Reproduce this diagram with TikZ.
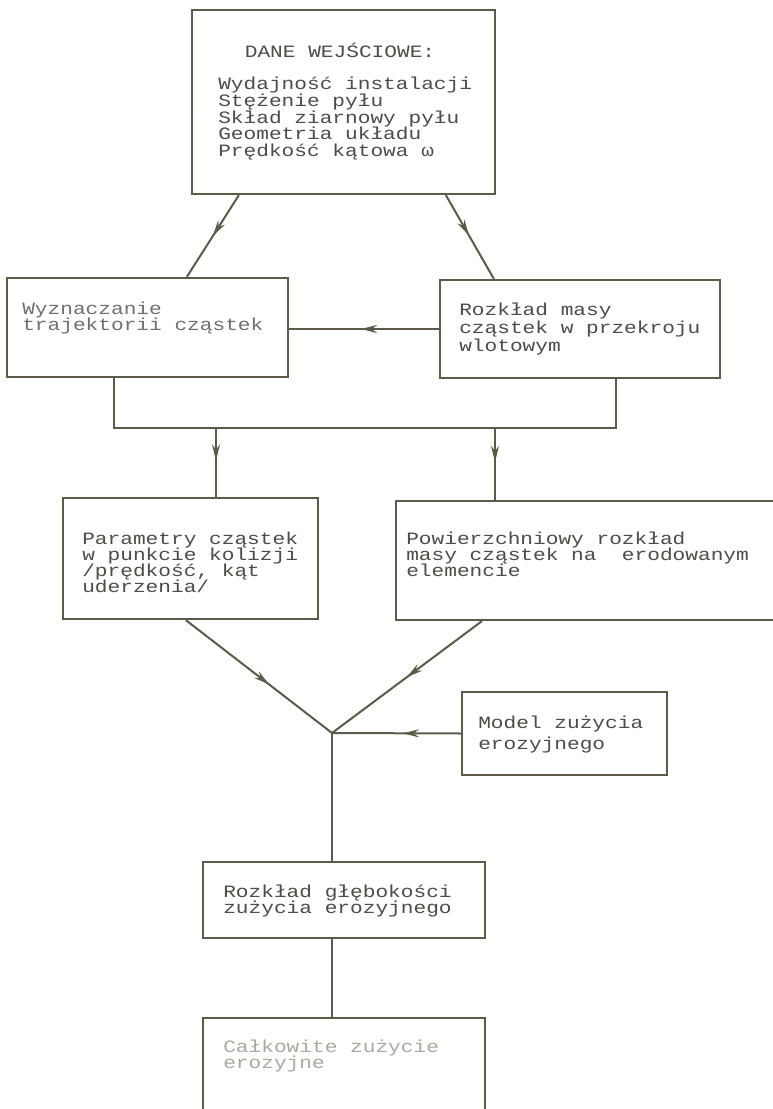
\documentclass[tikz,border=0pt]{standalone}
\usepackage{fontspec}
\newfontfamily\tw[FakeStretch=1.22]{Liberation Mono}
\usetikzlibrary{arrows.meta,decorations.markings,calc,fit}
\definecolor{ink}{HTML}{5E5A48}
\definecolor{txtc}{HTML}{4F4B45}
\definecolor{faint}{HTML}{ADA89C}
\newcommand{\mlines}[2]{\vtop{\baselineskip=#1\lineskiplimit=-100pt\lineskip=0pt\halign{##\hfil\cr#2\crcr}}}
\tikzset{
  box/.style={draw=ink, line width=1.7pt, inner sep=0pt},
  txtnode/.style={anchor=base west, inner sep=0pt, text=txtc, font=\tw\fontsize{13pt}{12pt}\selectfont},
  conn/.style={draw=ink, line width=1.5pt},
  midarr/.style={conn, postaction={decorate}, decoration={markings, mark=at position #1 with {\arrow[ink]{Stealth[length=12pt,width=6pt]}}}},
  midarr/.default=0.5
}
\begin{document}
\begin{tikzpicture}[x=0.75pt, y=-0.75pt]
\fill[white] (0,0) rectangle (772,1109);
\useasboundingbox (0,0) rectangle (772,1109);

% boxes
\node[box, fit={(192,10) (495,194)}] (top) {};
\node[box, fit={(7,278) (288,377)}] (wyz) {};
\node[box, fit={(440,280) (720,378)}] (rozk) {};
\node[box, fit={(63,498) (318,619)}] (param) {};
\node[box, fit={(396,501) (790,620)}] (powierz) {};
\node[box, fit={(462,692) (667,775)}] (model) {};
\node[box, fit={(203,862) (485,938)}] (glebok) {};
\node[box, fit={(203,1018) (485,1130)}] (calk) {};

% texts
\node[txtnode, anchor=base] (toph) at (340,58) {DANE WEJŚCIOWE:};
\node[txtnode] (toptxt) at (218,90) {\mlines{12.5pt}{Wydajność instalacji\cr Stężenie pyłu\cr Skład ziarnowy pyłu\cr Geometria układu\cr Prędkość kątowa ω}};
\node[txtnode, text=txtc!80] (wyztxt) at (22,314) {\mlines{12.3pt}{Wyznaczanie\cr trajektorii cząstek}};
\node[txtnode] (rozktxt) at (459,315) {\mlines{13.8pt}{Rozkład masy\cr cząstek w przekroju\cr wlotowym}};
\node[txtnode] (paramtxt) at (82,544) {\mlines{12pt}{Parametry cząstek\cr w punkcie kolizji\cr /prędkość, kąt\cr uderzenia/}};
\node[txtnode] (powtxt) at (406,544) {\mlines{12.3pt}{Powierzchniowy rozkład\cr masy cząstek na~ erodowanym\cr elemencie}};
\node[txtnode] (modeltxt) at (478,728) {\mlines{15.8pt}{Model zużycia\cr erozyjnego}};
\node[txtnode] (glebtxt) at (223,897) {\mlines{12.3pt}{Rozkład głębokości\cr zużycia erozyjnego}};
\node[txtnode, text=faint] (calktxt) at (223,1052) {\mlines{12.3pt}{Całkowite zużycie\cr erozyjne}};

% coordinates
\coordinate (busL) at (114,428);
\coordinate (busR) at (616,428);
\coordinate (busA) at (216,428);
\coordinate (busB) at (495,428);
\coordinate (junc) at (332,733);

% connectors
\draw[midarr=0.5] ($(top.south west)+(48,0)$) -- ($(wyz.north west)+(181,0)$);
\draw[midarr=0.48] ($(top.south west)+(255,0)$) -- ($(rozk.north west)+(55,0)$);
\draw[midarr=0.52] (rozk.west) -- (rozk.west -| wyz.east);
\draw[conn] (wyz.south -| busL) -- (busL) -- (busR) -- (rozk.south -| busR);
\draw[midarr=0.47] (busA) -- (param.north -| busA);
\draw[midarr=0.47] (busB) -- (powierz.north -| busB);
\draw[midarr=0.57] ($(param.south west)+(124,0)$) -- (junc);
\draw[midarr=0.5] ($(powierz.south west)+(87,0)$) -- (junc);
\draw[midarr=0.45] (model.west) -- (junc);
\draw[conn] (junc) -- (glebok.north -| junc);
\draw[conn] (glebok.south -| junc) -- (calk.north -| junc);
\end{tikzpicture}
\end{document}
